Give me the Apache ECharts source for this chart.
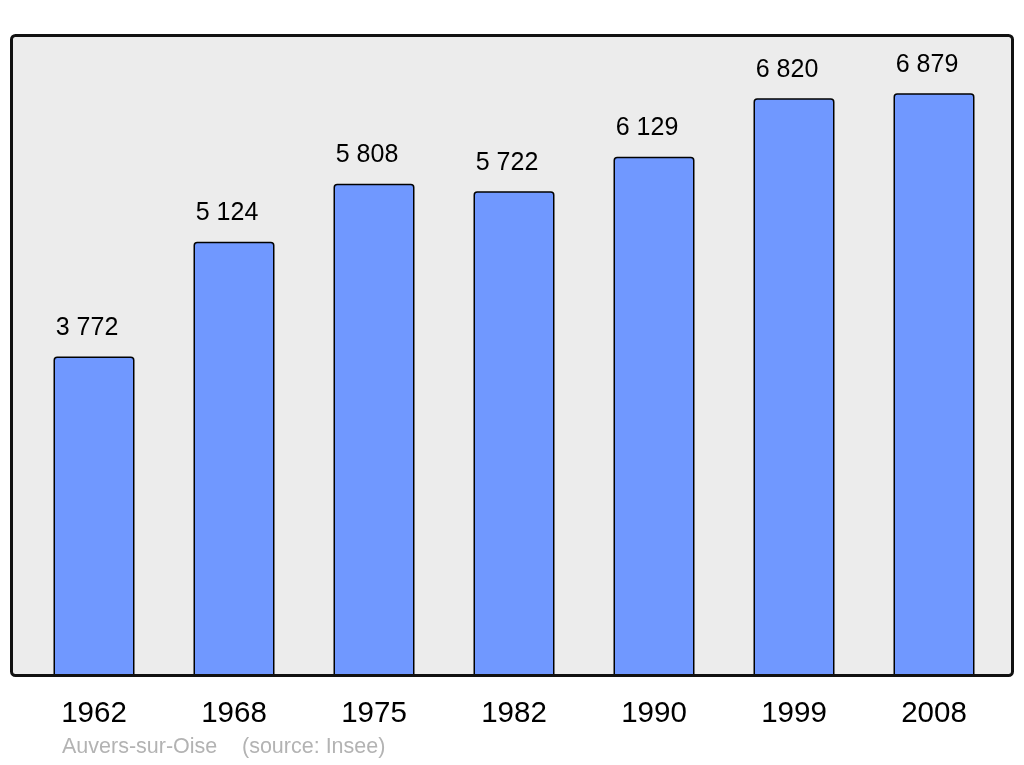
<!DOCTYPE html>
<html>
<head>
<meta charset="utf-8">
<script src="https://cdn.jsdelivr.net/npm/echarts@6/dist/echarts.min.js"></script>
<style>
html,body{margin:0;padding:0;background:#fff;}
#chart{width:1024px;height:765px;}
</style>
</head>
<body>
<div id="chart"></div>
<script>
var categories = ['1962', '1968', '1975', '1982', '1990', '1999', '2008'];
var population = [3772, 5124, 5808, 5722, 6129, 6820, 6879];
var footnoteTown = 'Auvers-sur-Oise';
var footnoteSource = '(source: Insee)';

function fmt(v) {
  return String(v).replace(/\B(?=(\d{3})+(?!\d))/g, ' ');
}

var chart = echarts.init(document.getElementById('chart'), null, {renderer: 'canvas'});
chart.setOption({
  animation: false,
  backgroundColor: '#ffffff',
  textStyle: {fontFamily: 'Liberation Sans, Arial, sans-serif'},
  grid: {left: 24, right: 20, top: 35, bottom: 89, containLabel: false},
  xAxis: {
    type: 'category',
    data: categories,
    axisLine: {show: false},
    axisTick: {show: false},
    axisLabel: {fontSize: 29.5, color: '#000', margin: 23, fontFamily: 'Liberation Sans, Arial, sans-serif'}
  },
  yAxis: {
    type: 'value',
    min: 0,
    max: 7565,
    show: false,
    splitLine: {show: false}
  },
  series: [{
    type: 'bar',
    data: population,
    barWidth: 81,
    z: 5,
    itemStyle: {color: '#7098ff', borderColor: '#000', borderWidth: 1.5, borderRadius: [3, 3, 0, 0]},
    label: {
      show: true,
      position: 'top',
      distance: 16,
      offset: [-7, 0],
      fontSize: 25,
      color: '#000',
      fontFamily: 'Liberation Sans, Arial, sans-serif',
      formatter: function (p) { return fmt(p.value); }
    }
  }],
  graphic: [
    {
      type: 'rect', z: -10, silent: true,
      shape: {x: 11, y: 35, width: 1002, height: 641, r: 4},
      style: {fill: '#ececec', stroke: null}
    },
    {
      type: 'rect', z: 100, silent: true,
      shape: {x: 11.5, y: 35.5, width: 1001, height: 640, r: 4},
      style: {fill: null, stroke: '#111', lineWidth: 3}
    },
    {
      type: 'text', left: 62, top: 736, silent: true,
      style: {text: footnoteTown, fill: '#b3b3b3', font: '21.5px "Liberation Sans", Arial, sans-serif'}
    },
    {
      type: 'text', left: 242, top: 736, silent: true,
      style: {text: footnoteSource, fill: '#b3b3b3', font: '21.5px "Liberation Sans", Arial, sans-serif'}
    }
  ]
});
</script>
</body>
</html>
